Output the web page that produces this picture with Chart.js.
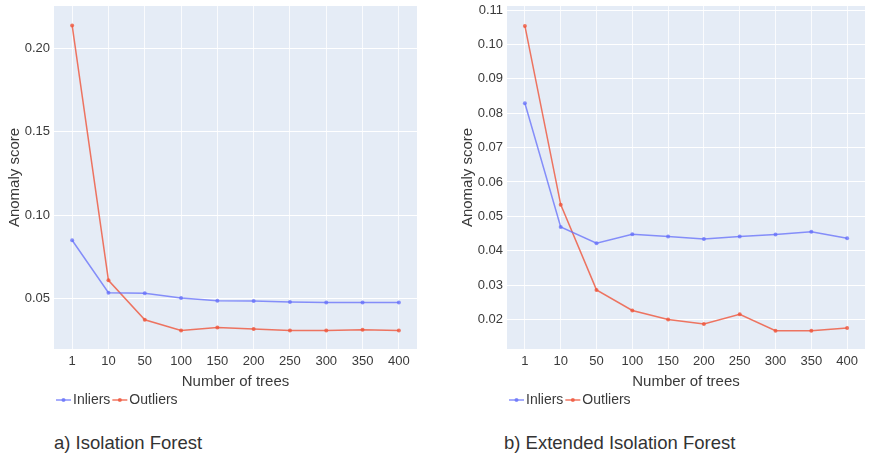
<!DOCTYPE html>
<html>
<head>
<meta charset="utf-8">
<script src="https://cdn.jsdelivr.net/npm/chart.js@4/dist/chart.umd.min.js"></script>
<style>
  body { margin: 0; background: #fff; width: 869px; height: 458px; overflow: hidden; position: relative; font-family: 'Liberation Sans', Arial, sans-serif; }
  .box { position: absolute; top: 0; height: 423px; }
  #boxA { left: 0; width: 440px; }
  #boxB { left: 440px; width: 429px; }
  .caption { position: absolute; top: 431px; font-size: 18.5px; color: #333; line-height: 24px; }
</style>
</head>
<body>
<div class="box" id="boxA"><canvas id="chartA"></canvas></div>
<div class="box" id="boxB"><canvas id="chartB"></canvas></div>
<div class="caption" style="left:54px">a) Isolation Forest</div>
<div class="caption" style="left:504px">b) Extended Isolation Forest</div>
<script>
const trees = ['1', '10', '50', '100', '150', '200', '250', '300', '350', '400'];

// a) Isolation Forest
const inliersA  = [0.085, 0.0536, 0.0532, 0.0504, 0.0488, 0.0486, 0.0481, 0.0478, 0.0478, 0.0478];
const outliersA = [0.2136, 0.061, 0.0374, 0.031, 0.0328, 0.0318, 0.031, 0.031, 0.0314, 0.031];
const yTicksA = [0.05, 0.10, 0.15, 0.20];

// b) Extended Isolation Forest
const inliersB  = [0.0829, 0.0469, 0.0422, 0.0448, 0.0441, 0.0434, 0.0441, 0.0447, 0.0455, 0.0436];
const outliersB = [0.1054, 0.0534, 0.0286, 0.0226, 0.0200, 0.0187, 0.0215, 0.0167, 0.0167, 0.0175];
const yTicksB = [0.02, 0.03, 0.04, 0.05, 0.06, 0.07, 0.08, 0.09, 0.10, 0.11];

const blue = 'rgba(99, 110, 250, 0.75)';
const red = 'rgba(239, 85, 59, 0.8)';
const textColor = '#3a3a3a';
const fontFamily = "'Liberation Sans', Arial, sans-serif";

// plotly style background for the plot area + line/dot symbols in the legend
const plotBg = {
  id: 'plotBg',
  beforeDraw(chart) {
    const a = chart.chartArea;
    chart.ctx.save();
    chart.ctx.fillStyle = '#e5ecf6';
    chart.ctx.fillRect(a.left, a.top, a.right - a.left, a.bottom - a.top);
    chart.ctx.restore();
  },
  afterDraw(chart) {
    const lg = chart.legend;
    if (!lg || !lg.legendHitBoxes) return;
    const ctx = chart.ctx;
    lg.legendHitBoxes.forEach((hb, i) => {
      const item = lg.legendItems[i];
      const cy = hb.top + hb.height / 2;
      ctx.save();
      ctx.strokeStyle = item.strokeStyle;
      ctx.fillStyle = item.strokeStyle;
      ctx.lineWidth = 1.5;
      ctx.beginPath();
      ctx.moveTo(hb.left, cy);
      ctx.lineTo(hb.left + 15, cy);
      ctx.stroke();
      ctx.beginPath();
      ctx.arc(hb.left + 7.5, cy, 2, 0, Math.PI * 2);
      ctx.fill();
      ctx.restore();
    });
  }
};

function makeChart(id, inliers, outliers, yMin, yMax, yTicks, padLeft, padRight) {
  const ctx = document.getElementById(id).getContext('2d');
  return new Chart(ctx, {
    type: 'line',
    data: {
      labels: trees,
      datasets: [
        {
          label: 'Inliers',
          data: inliers,
          borderColor: blue,
          backgroundColor: blue,
          borderWidth: 1.5,
          pointRadius: 2,
          pointBorderWidth: 0,
          tension: 0
        }, {
          label: 'Outliers',
          data: outliers,
          borderColor: red,
          backgroundColor: red,
          borderWidth: 1.5,
          pointRadius: 2,
          pointBorderWidth: 0,
          tension: 0
        }
      ]
    },
    options: {
      responsive: true,
      maintainAspectRatio: false,
      animation: false,
      layout: { padding: { top: 6, left: padLeft, right: padRight, bottom: 6 } },
      plugins: {
        tooltip: { enabled: false },
        legend: {
          position: 'bottom',
          align: 'start',
          fullSize: false,
          labels: {
            usePointStyle: true,
            pointStyle: 'line',
            pointStyleWidth: 10,
            padding: 2,
            color: textColor,
            font: { family: fontFamily, size: 14 }
          }
        }
      },
      scales: {
        x: {
          offset: true,
          grid: { color: 'rgba(255,255,255,0.8)', offset: false, drawTicks: false },
          border: { display: false },
          ticks: { color: textColor, padding: 5, font: { family: fontFamily, size: 13 }, maxRotation: 0 },
          title: { display: true, text: 'Number of trees', color: textColor, padding: { top: -3, bottom: 0 }, font: { family: fontFamily, size: 15 } },
          afterFit(scale) { scale.height = 42; scale.paddingLeft = 0; scale.paddingRight = 0; }
        },
        y: {
          min: yMin,
          max: yMax,
          grid: { color: '#ffffff', drawTicks: false },
          border: { display: false },
          afterBuildTicks(scale) { scale.ticks = yTicks.map(v => ({ value: v })); },
          ticks: {
            color: textColor,
            padding: 4,
            font: { family: fontFamily, size: 13 },
            callback: v => v.toFixed(2)
          },
          title: { display: true, text: 'Anomaly score', color: textColor, padding: { top: 6, bottom: 0 }, font: { family: fontFamily, size: 15 } },
          afterFit(scale) { scale.width = 54; scale.paddingTop = 0; scale.paddingBottom = 0; }
        }
      }
    },
    plugins: [plotBg]
  });
}

makeChart('chartA', inliersA, outliersA, 0.0199, 0.2252, yTicksA, 0, 23);
makeChart('chartB', inliersB, outliersB, 0.0114, 0.1112, yTicksB, 13, 3);
</script>
</body>
</html>
